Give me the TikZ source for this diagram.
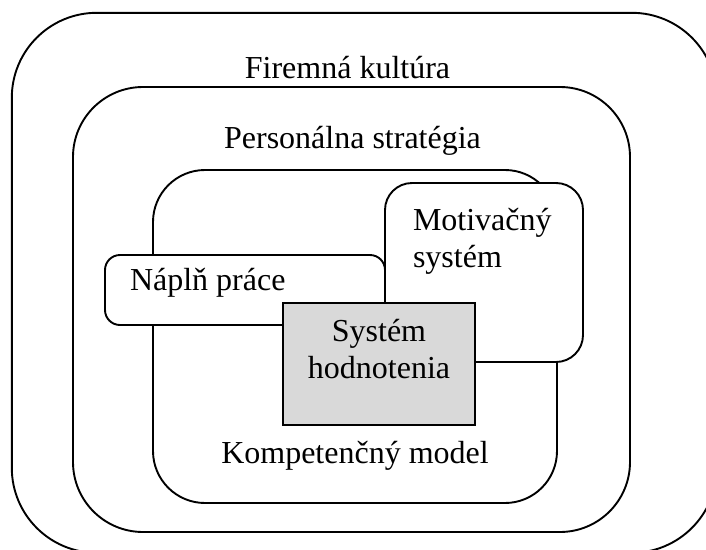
\documentclass[tikz,border=0pt]{standalone}
\usepackage{fontspec}
\setmainfont{Liberation Serif}
\begin{document}
\begin{tikzpicture}[x=1pt,y=-1pt,
  frame/.style={draw=black,line width=1.9pt,inner sep=0pt,outer sep=0pt},
  roundbox/.style={frame,rectangle,rounded corners=#1,fill=white},
  label/.style={inner sep=0pt,outer sep=0pt,font=\fontsize{32}{37}\selectfont}]
\useasboundingbox (0,0) rectangle (706,549);
\clip (0,0) rectangle (706,549);
% nested frames, outermost first
\node[roundbox=85pt,minimum width=705pt,minimum height=540pt] (culture) at (364.3,282.8) {};
\node[roundbox=70pt,minimum width=557pt,minimum height=445pt] (strategy) at (351.5,309.5) {};
\node[roundbox=52pt,minimum width=404pt,minimum height=333pt] (competence) at (355,336.5) {};
\node[roundbox=27pt,minimum width=198pt,minimum height=179pt] (motivation) at (484,272.5) {};
\node[roundbox=15pt,minimum width=280pt,minimum height=70pt] (jobdesc) at (245,290) {};
\node[frame,rectangle,fill=black!15,minimum width=192pt,minimum height=122pt] (appraisal) at (379,364) {};
% labels (multi-line labels are placed by the baseline of their last line)
\node[label,anchor=base] (tculture) at (347.5,78) {Firemná kultúra};
\node[label,anchor=base] (tstrategy) at (352.5,148) {Personálna stratégia};
\node[label,anchor=base] (tcompetence) at (355,463) {Kompetenčný model};
\node[label,anchor=base west] (tjobdesc) at (130,290) {Náplň práce};
\node[label,anchor=base west,align=left] (tmotivation) at (413,267) {Motivačný\\systém};
\node[label,anchor=base,align=center] (tappraisal) at (379,378) {Systém\\hodnotenia};
\end{tikzpicture}
\end{document}
